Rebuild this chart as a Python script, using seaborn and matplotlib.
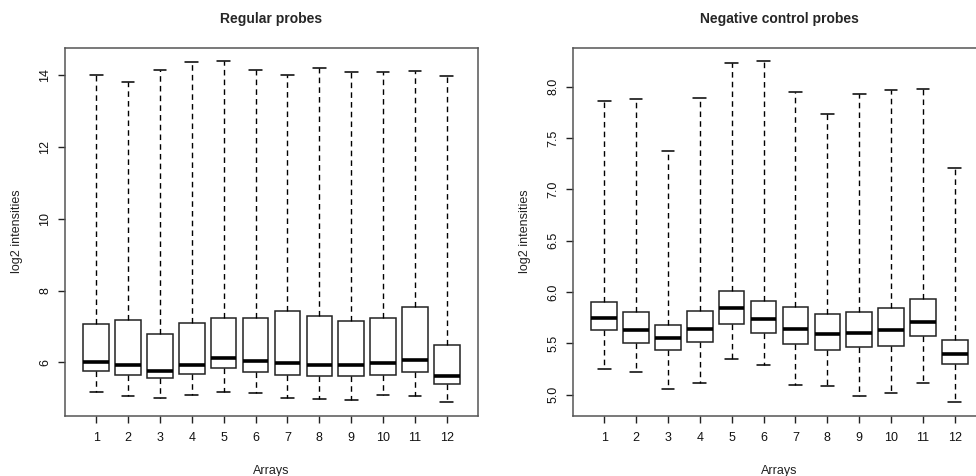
import numpy as np
import pandas as pd
import matplotlib
matplotlib.use('Agg')
import matplotlib.pyplot as plt
import seaborn as sns

# -----------------------
# five-number summaries (whisker low, Q1, median, Q3, whisker high)

arrays = [str(i) for i in range(1, 13)]

reg_low = [5.18, 5.06, 5.02, 5.08, 5.18, 5.15, 5.02, 4.99, 4.96, 5.08, 5.06, 4.90]
reg_q1 = [5.76, 5.65, 5.56, 5.68, 5.84, 5.73, 5.65, 5.61, 5.61, 5.65, 5.73, 5.41]
reg_med = [6.00, 5.94, 5.76, 5.92, 6.12, 6.03, 5.97, 5.92, 5.94, 5.97, 6.06, 5.62]
reg_q3 = [7.06, 7.19, 6.80, 7.09, 7.24, 7.24, 7.44, 7.30, 7.15, 7.24, 7.54, 6.48]
reg_high = [14.02, 13.81, 14.16, 14.37, 14.40, 14.16, 14.02, 14.22, 14.10, 14.10, 14.13, 13.99]

neg_low = [5.25, 5.22, 5.06, 5.11, 5.35, 5.29, 5.09, 5.08, 4.99, 5.02, 5.11, 4.93]
neg_q1 = [5.63, 5.50, 5.44, 5.51, 5.69, 5.60, 5.49, 5.44, 5.46, 5.47, 5.57, 5.30]
neg_med = [5.75, 5.63, 5.55, 5.64, 5.84, 5.74, 5.64, 5.59, 5.60, 5.63, 5.71, 5.40]
neg_q3 = [5.90, 5.81, 5.68, 5.82, 6.01, 5.91, 5.85, 5.79, 5.81, 5.84, 5.93, 5.53]
neg_high = [7.86, 7.88, 7.37, 7.89, 8.23, 8.25, 7.95, 7.73, 7.93, 7.97, 7.98, 7.21]

# -----------------------

def long_df(low, q1, med, q3, high):
	# five values per box: with whis=(0,100) seaborn gives exactly these quartiles / whiskers
	rows = []
	for a, vals in zip(arrays, zip(low, q1, med, q3, high)):
		for v in vals:
			rows.append((a, v))
	return pd.DataFrame(rows, columns=['array', 'value'])

df_reg = long_df(reg_low, reg_q1, reg_med, reg_q3, reg_high)
df_neg = long_df(neg_low, neg_q1, neg_med, neg_q3, neg_high)

sns.set_style('white')
plt.rcParams['font.family'] = ['Liberation Sans', 'DejaVu Sans']
plt.rcParams['font.size'] = 9

fig = plt.figure(figsize=(9.76, 4.76), dpi=100)
ax1 = fig.add_axes([65/976, 1 - 415.5/476, 413/976, 368/476])
ax2 = fig.add_axes([573/976, 1 - 415.5/476, 413/976, 368/476])

def draw(ax, df, title, yticks, fmt):
	sns.boxplot(data=df, x='array', y='value', order=arrays, ax=ax,
		whis=(0, 100), width=0.8, color='white', linecolor='black', linewidth=1,
		boxprops=dict(edgecolor='#222222', linewidth=1.1),
		whiskerprops=dict(linestyle=(0, (4, 3)), color='black', linewidth=1),
		capprops=dict(color='black', linewidth=1.1),
		medianprops=dict(color='black', linewidth=2.6))

	lo, hi = df['value'].min(), df['value'].max()
	pad = 0.04 * (hi - lo)
	ax.set_ylim(lo - pad, hi + pad)
	ax.set_xlim(-0.98, 11.98)

	ax.set_yticks(yticks)
	ax.set_yticklabels([fmt % t for t in yticks], rotation=90, va='center')
	ax.tick_params(axis='both', direction='out', length=5, width=1, color='#222222',
		labelcolor='#111111', labelsize=9, left=True, bottom=True)
	ax.tick_params(axis='x', pad=7)
	ax.tick_params(axis='y', pad=5)

	for s in ax.spines.values():
		s.set_visible(True)
		s.set_color('#555555')
		s.set_linewidth(1.1)

	ax.set_title(title, fontsize=10, fontweight='bold', pad=18)
	ax.set_xlabel('Arrays', fontsize=9, color='#222222')
	ax.set_ylabel('log2 intensities', fontsize=9, color='#222222')
	ax.xaxis.set_label_coords(0.5, -0.135)
	ax.yaxis.set_label_coords(-0.102, 0.5)

draw(ax1, df_reg, 'Regular probes', [6, 8, 10, 12, 14], '%d')
draw(ax2, df_neg, 'Negative control probes', [5.0, 5.5, 6.0, 6.5, 7.0, 7.5, 8.0], '%.1f')

plt.savefig('out.png', dpi=100)
